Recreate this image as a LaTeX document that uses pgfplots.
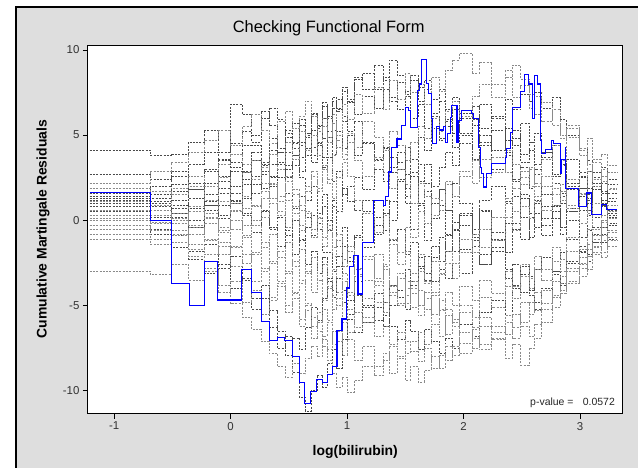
\documentclass[border=0pt]{standalone}
\usepackage{fontspec}
\setmainfont{Liberation Sans}
\usepackage{pgfplots}
\usepackage{pgfplotstable}
\pgfplotsset{compat=1.18}
\definecolor{simdark}{HTML}{4A4A4A}
\definecolor{simlight}{HTML}{8A8A8A}
\definecolor{outergray}{RGB}{222,222,222}

\pgfplotstableread[header=false]{
x   -1.21 -0.69 -0.51 -0.36 -0.23 -0.11 0.00 0.10 0.18 0.26 0.33 0.40 0.47 0.53 0.59 0.64 0.69 0.74 0.79 0.83 0.87 0.91 0.96 1.00 1.06 1.13 1.23 1.31 1.36 1.43 1.50 1.54 1.61 1.66 1.72 1.79 1.84 1.90 1.96 2.07 2.13 2.24 2.36 2.42 2.49 2.56 2.61 2.67 2.76 2.83 2.88 2.99 3.06 3.10 3.18 3.23 3.32
p1  4.1 3.8 3.9 4.6 5.3 4.0 6.8 6.2 5.0 6.4 5.6 4.2 3.0 3.8 2.5 1.2 2.0 0.4 1.5 -0.6 0.8 -1.5 -0.4 -2.2 -1.0 0.5 -0.8 1.2 0.0 2.4 1.0 -0.5 0.9 -1.2 0.3 1.8 0.6 2.2 1.0 -0.8 0.5 -1.6 -0.2 1.4 0.2 -1.0 0.4 -0.9 0.8 1.6 0.5 1.9 1.0 2.2 1.2 0.6 0.6
p2  1.9 1.7 1.5 2.0 1.2 2.5 1.0 2.8 3.5 2.2 3.9 3.0 4.6 3.6 5.2 4.1 5.0 3.8 5.5 4.6 6.2 5.0 6.8 5.9 7.4 6.3 7.8 6.5 8.2 7.1 8.6 7.5 8.0 6.8 8.4 7.6 8.8 9.4 9.8 8.6 9.3 8.0 8.8 7.2 7.9 6.6 7.3 5.8 6.5 5.0 5.6 4.2 4.8 3.6 3.9 3.2 3.2
p3  -0.5 -0.8 -1.6 -2.3 -3.1 -2.6 -4.0 -3.4 -5.2 -4.6 -6.3 -7.5 -6.8 -8.9 -10.4 -11.2 -10.0 -9.1 -9.8 -8.4 -7.6 -8.7 -7.0 -5.8 -6.6 -5.1 -4.3 -5.6 -3.8 -4.5 -2.9 -3.6 -2.2 -3.1 -1.5 -2.4 -0.9 -1.8 -0.3 -1.5 0.6 -0.7 1.0 -0.2 1.5 0.4 1.2 0.1 0.9 -0.4 0.5 1.4 0.6 1.8 0.9 0.3 0.3
p4  -3.0 -3.2 -2.6 -3.5 -2.8 -4.2 -3.6 -4.8 -4.1 -5.5 -4.7 -3.9 -5.0 -4.3 -5.8 -5.0 -6.2 -5.4 -6.8 -6.0 -7.3 -6.5 -7.9 -7.0 -8.2 -7.4 -8.6 -7.8 -9.0 -8.1 -9.4 -8.6 -9.5 -8.8 -8.0 -8.7 -7.4 -7.9 -6.6 -7.5 -6.2 -7.0 -5.6 -6.3 -4.8 -5.5 -4.2 -4.9 -3.6 -4.1 -2.8 -3.3 -2.1 -1.5 -1.9 -1.0 -1.0
p5  2.7 2.4 2.9 2.2 3.0 2.6 3.4 2.8 4.0 3.3 4.8 4.0 5.3 4.6 5.9 5.1 6.3 5.5 6.9 6.1 7.0 6.4 7.6 6.9 8.3 8.6 7.7 8.4 7.2 6.5 7.3 6.0 6.8 5.4 6.1 4.8 5.5 4.3 5.0 3.6 4.4 3.0 3.8 2.4 3.1 1.9 2.7 1.5 2.2 1.0 1.8 0.6 1.3 0.2 0.8 -0.3 -0.3
p6  0.0 0.3 -0.2 0.5 0.1 -0.4 0.6 -0.3 0.9 0.2 1.3 0.5 -0.4 0.8 -0.6 0.4 -1.0 0.1 -1.5 -0.5 -2.1 -1.2 -2.7 -1.8 -3.2 -2.3 -3.8 -2.9 -4.4 -3.4 -4.9 -4.0 -5.6 -4.6 -6.1 -5.2 -6.7 -5.8 -7.2 -6.4 -7.6 -6.9 -8.1 -7.3 -8.5 -7.5 -6.9 -6.0 -5.1 -4.3 -3.6 -2.8 -2.1 -1.6 -1.2 -0.7 -0.7
p7  1.4 1.1 1.7 1.3 2.2 1.6 2.9 2.1 3.5 2.7 4.1 3.4 4.9 4.2 5.6 4.9 6.2 5.4 6.7 6.0 7.2 6.5 7.8 7.1 8.4 7.7 9.1 8.2 9.4 8.5 7.6 8.2 7.0 7.7 6.3 7.0 5.8 6.5 5.1 5.9 4.6 5.3 4.0 4.8 3.4 4.1 3.0 3.7 2.6 3.3 2.2 2.8 1.9 2.5 1.6 2.1 2.1
p8  -0.8 -1.1 -0.6 -1.4 -2.0 -1.5 -2.7 -2.0 -3.6 -2.8 -4.5 -3.7 -5.4 -4.6 -6.2 -5.3 -6.9 -6.0 -5.2 -5.9 -4.4 -5.0 -3.6 -4.2 -2.8 -3.5 -2.0 -2.7 -1.1 -1.9 -0.4 -1.0 0.5 -0.2 1.3 0.6 2.1 1.4 2.9 2.2 3.6 2.8 4.1 3.3 2.5 3.1 2.0 2.6 1.5 2.1 0.9 1.5 0.4 1.0 -0.1 0.5 0.5
p9  1.0 0.8 1.2 0.7 1.5 0.9 2.0 1.3 2.6 1.9 3.3 2.5 4.0 3.2 4.6 3.8 5.3 4.5 6.0 5.2 6.6 7.1 6.1 5.2 5.8 4.5 3.6 4.2 2.8 3.4 1.9 2.6 1.0 1.7 0.1 0.9 -0.8 -0.1 -1.7 -1.0 -2.6 -1.8 -3.4 -2.6 -4.2 -3.3 -4.8 -4.0 -3.2 -3.8 -2.5 -1.9 -2.4 -1.3 -0.8 -1.1 -1.1
p10 -1.1 -1.4 -0.9 -1.7 -1.2 -2.0 -1.6 -2.5 -1.9 -3.0 -2.4 -3.6 -3.0 -4.2 -3.5 -4.9 -5.7 -6.5 -7.4 -8.2 -9.0 -9.8 -9.2 -10.1 -9.4 -8.6 -9.1 -8.2 -7.4 -8.0 -7.1 -7.7 -6.6 -7.3 -6.1 -6.8 -5.6 -6.2 -5.0 -5.7 -4.5 -5.1 -3.9 -4.6 -3.3 -4.0 -2.9 -3.5 -2.4 -3.0 -1.8 -2.5 -1.4 -2.0 -0.9 -1.5 -1.5
p11 0.5 0.2 0.7 0.0 0.9 0.3 1.1 0.4 -0.3 0.6 -0.5 0.2 -0.9 0.0 -1.2 -0.4 0.3 -0.5 0.8 0.0 1.2 0.5 1.9 1.1 2.5 1.8 3.0 2.3 3.7 3.0 4.3 3.6 4.9 4.1 5.4 4.7 5.9 5.1 6.3 5.6 6.8 6.0 7.1 6.5 7.4 7.0 7.5 6.6 7.2 5.9 5.0 4.2 3.5 2.8 3.1 2.4 2.4
p12 0.3 0.6 0.1 0.8 0.4 1.1 0.5 1.4 0.8 1.7 1.0 0.3 1.2 0.4 -0.3 0.5 -0.5 0.2 -1.0 -0.3 -1.6 -0.8 -2.3 -1.5 -2.9 -2.1 -3.4 -2.6 -3.9 -3.1 -4.4 -3.6 -5.0 -4.2 -5.5 -4.7 -5.2 -6.0 -5.4 -6.3 -5.7 -6.6 -6.0 -6.9 -6.2 -6.8 -6.1 -5.2 -4.4 -3.7 -3.0 -2.2 -1.7 -0.9 -0.4 0.1 0.1
p13 1.6 2.0 2.6 3.3 4.0 3.5 4.5 5.2 4.6 6.0 6.6 5.9 5.1 5.7 4.4 5.0 3.8 4.4 3.1 3.7 2.3 2.9 1.5 2.0 0.6 1.2 -0.3 0.4 -1.2 -0.5 -2.0 -1.3 -2.8 -2.1 -3.6 -2.9 -3.4 -2.5 -3.1 -1.9 -2.6 -1.2 -1.9 -0.5 -1.1 0.2 -0.4 0.8 0.1 1.4 0.7 1.9 1.2 2.4 1.7 1.1 1.1
p14 -0.3 -0.6 -1.3 -2.1 -3.0 -3.8 -4.9 -5.7 -6.4 -7.1 -7.8 -8.6 -9.2 -8.4 -9.0 -8.1 -7.4 -8.0 -7.0 -7.6 -6.5 -7.1 -6.0 -6.6 -5.4 -6.0 -4.8 -5.4 -4.2 -4.9 -3.6 -4.3 -3.0 -3.7 -2.4 -3.1 -1.8 -2.5 -1.1 -1.9 -0.5 -1.2 0.2 -0.6 0.8 0.1 1.4 0.6 1.9 1.2 2.4 1.6 2.9 2.0 2.6 1.9 1.9
p15 1.2 1.5 0.9 1.8 1.1 2.3 1.6 2.9 2.1 3.4 2.6 4.0 3.2 4.5 3.7 5.1 4.3 5.6 4.8 6.1 5.3 6.6 5.8 7.0 6.2 7.3 6.6 7.7 7.0 8.1 7.4 8.5 7.8 8.2 7.1 7.7 6.5 7.2 6.0 6.7 5.4 6.1 4.7 5.3 3.9 4.6 3.3 4.0 2.7 3.3 2.0 2.6 1.5 2.0 1.0 1.6 1.6
p16 -0.5 -0.2 -0.8 -0.4 -1.1 -0.7 -1.5 -0.9 -2.0 -1.3 -2.5 -1.8 -3.1 -2.4 -3.7 -3.0 -4.2 -3.5 -4.7 -4.0 -5.2 -4.6 -5.8 -5.2 -6.3 -5.7 -6.8 -6.2 -7.3 -6.6 -7.8 -7.1 -8.3 -7.5 -8.7 -7.9 -8.2 -7.4 -7.8 -6.9 -7.3 -6.2 -6.7 -5.5 -6.0 -4.8 -5.3 -4.1 -4.5 -3.3 -3.7 -2.6 -2.9 -1.9 -2.2 -1.2 -1.2
p17 0.8 1.0 0.4 1.3 0.6 1.9 1.2 2.4 1.6 2.9 2.0 3.3 2.5 3.8 2.9 4.2 3.4 4.6 3.7 4.9 3.9 5.2 4.2 5.0 3.8 4.6 3.5 4.3 3.1 4.0 2.7 3.6 2.3 3.3 2.0 3.1 4.0 3.2 4.5 3.6 5.0 4.1 5.4 4.4 5.7 4.6 5.1 4.0 4.4 3.2 3.6 2.5 2.9 1.8 2.2 1.3 1.3
p18 0.1 -0.1 0.4 -0.3 0.2 -0.6 0.0 -1.0 -0.3 -1.6 -0.8 -2.2 -1.3 -2.7 -1.7 -3.1 -2.2 -3.5 -2.6 -3.9 -2.9 -4.2 -3.1 -4.4 -3.3 -4.6 -3.6 -4.8 -3.8 -5.0 -4.0 -5.1 -4.1 -5.2 -4.2 -5.3 -4.2 -5.0 -3.9 -4.7 -3.5 -4.3 -3.0 -3.9 -2.6 -3.4 -2.1 -2.9 -1.6 -2.3 -1.0 -1.7 -0.5 -1.1 0.0 -0.6 -0.6
p19 1.3 1.3 2.1 1.8 2.9 3.6 3.1 4.4 4.4 3.2 2.5 2.5 1.6 0.7 1.4 0.2 -0.9 -0.2 -1.9 -1.9 -3.0 -2.1 -4.1 -4.7 -3.6 -5.0 -5.9 -4.8 -6.2 -7.0 -5.9 -6.5 -7.6 -6.4 -7.1 -7.8 -6.9 -7.5 -6.1 -6.8 -5.4 -4.7 -5.6 -4.0 -3.2 -4.1 -2.9 -2.2 -3.0 -1.9 -1.1 -1.8 -0.6 -1.3 -0.4 0.4 0.4
p20 0.6 0.9 1.9 2.6 2.0 3.3 3.9 3.3 2.4 3.1 2.2 1.4 2.3 1.5 0.6 1.7 2.6 1.9 3.2 2.4 3.8 4.7 3.9 5.1 4.3 5.8 4.9 4.1 5.2 4.4 3.5 4.6 5.5 4.8 6.0 5.2 6.4 7.0 6.1 7.3 8.0 7.2 8.4 9.1 8.3 7.4 6.2 6.9 5.6 4.8 5.4 4.1 3.3 2.4 3.0 1.8 1.8
p21 -0.3 0.0 -0.9 -1.8 -1.4 -2.8 -2.1 -3.5 -4.6 -3.8 -5.3 -6.5 -7.9 -6.9 -7.6 -6.3 -5.1 -5.9 -4.6 -3.4 -4.1 -2.7 -1.5 -2.4 -0.9 -1.6 0.2 -0.6 1.1 2.3 1.4 2.8 3.3 2.2 1.0 1.8 0.6 -0.5 0.3 -1.2 -2.0 -1.1 -2.9 -3.8 -2.7 -4.4 -5.2 -4.1 -3.0 -3.7 -2.4 -1.5 -2.0 -0.8 -1.3 -0.2 -0.2
p22 1.1 0.6 0.0 -0.8 -0.2 -1.3 -0.5 0.7 0.0 1.3 2.1 1.1 2.6 1.8 0.9 2.0 2.9 1.7 3.0 2.2 1.3 2.5 3.4 2.6 1.2 0.4 -0.7 0.3 -1.4 -2.6 -1.8 -3.1 -2.0 -3.6 -4.4 -3.2 -2.5 -3.4 -1.9 -0.8 -1.6 0.2 1.3 0.5 2.1 3.0 2.2 3.6 4.4 3.5 4.9 3.8 2.9 3.4 2.3 2.8 2.8
p23 0.0 -0.5 0.2 -0.4 0.9 0.1 1.0 0.3 -0.7 0.5 -0.4 -1.5 -0.6 -2.0 -1.1 -2.6 -1.8 -3.1 -2.2 -3.6 -4.5 -3.4 -4.8 -5.5 -4.4 -6.0 -5.1 -6.2 -5.0 -4.1 -5.2 -3.8 -2.7 -3.5 -2.2 -1.0 -1.8 -0.6 0.4 -0.5 1.2 2.0 1.1 2.3 1.3 0.2 1.0 -0.3 0.5 -0.8 0.0 -1.0 0.3 -0.4 0.9 0.2 0.2
p24 2.2 2.9 3.4 4.0 4.7 5.3 4.4 5.5 6.2 5.3 4.5 5.8 6.4 5.4 6.1 7.0 6.1 5.2 6.0 4.9 5.7 4.3 3.6 4.6 3.5 2.6 3.7 2.8 1.9 3.0 2.1 1.0 2.2 1.4 0.3 1.2 2.3 1.4 2.6 3.5 2.5 3.7 2.8 1.9 2.9 2.0 1.1 2.0 0.9 1.7 0.7 -0.2 0.6 -0.5 0.3 0.9 0.9
}\raw
\pgfplotstabletranspose[colnames from=0]\sims{\raw}

\begin{document}
\begin{tikzpicture}
\fill[white] (0bp,0bp) rectangle (639bp,468bp);
\fill[outergray] (16bp,0bp) rectangle (639bp,461bp);
\draw[draw=black, line width=1.3bp] (16bp,0bp) -- (16bp,461bp) -- (639bp,461bp);
\node[font=\fontsize{16.5}{18}\selectfont] at (329bp,440bp) {Checking Functional Form};
\begin{axis}[
  at={(88bp,54bp)}, anchor=south west,
  scale only axis, width=535.3bp, height=369bp,
  xmin=-1.225, xmax=3.365, ymin=-11.35, ymax=10.29,
  xtick={-1,0,1,2,3}, ytick={-10,-5,0,5,10},
  tick align=outside, tick pos=left, major tick length=5bp,
  every tick/.style={black, line width=0.6bp},
  axis line style={line width=0.9bp},
  axis background/.style={fill=white},
  /pgf/number format/assume math mode=true,
  ticklabel style={font=\fontsize{11.5}{13}\selectfont, text=black!80},
  xlabel={log(bilirubin)}, ylabel={Cumulative Martingale Residuals},
  label style={font=\bfseries\fontsize{14}{16}\selectfont},
  xlabel style={at={(rel axis cs:0.5,0)}, anchor=center, yshift=-38bp},
  ylabel style={at={(rel axis cs:0,0.5)}, anchor=center, yshift=45bp},
  sim/.style={const plot, no marks, line width=0.5bp, dash pattern=on 2bp off 1.3bp},
]
\pgfplotsinvokeforeach{1,3,5,7,9,11,13,15,17,19,21,23}{
  \addplot[sim, draw=simdark] table[x=x, y=p#1] {\sims};
}
\pgfplotsinvokeforeach{2,4,6,8,10,12,14,16,18,20,22,24}{
  \addplot[sim, draw=simlight] table[x=x, y=p#1] {\sims};
}
\addplot[const plot, no marks, blue, line width=1.1bp] coordinates {
(-1.206,1.62) (-0.689,-0.04) (-0.509,-3.70) (-0.355,-5.03) (-0.226,-2.40) (-0.109,-4.68) (0.097,-2.87) (0.177,-4.25) (0.262,-5.95) (0.334,-7.06) (0.399,-6.88) (0.465,-7.06) (0.528,-7.99) (0.591,-9.55) (0.637,-10.76) (0.686,-10.08) (0.737,-9.36) (0.785,-9.55) (0.828,-9.06) (0.871,-8.61) (0.913,-6.45) (0.956,-5.80) (0.991,-3.98) (1.022,-2.73) (1.057,-2.05) (1.093,-4.33) (1.128,-1.29) (1.228,1.17) (1.314,0.88) (1.328,1.40) (1.356,2.83) (1.380,4.29) (1.428,4.77) (1.470,5.56) (1.500,6.63) (1.528,6.43) (1.542,5.46) (1.605,7.64) (1.622,8.0) (1.642,9.45) (1.678,8.03) (1.699,7.45) (1.722,5.95) (1.734,4.50) (1.770,5.50) (1.791,5.30) (1.828,5.50) (1.842,4.58) (1.865,5.07) (1.885,6.04) (1.899,6.73) (1.943,4.58) (1.956,5.85) (1.979,6.43) (2.070,6.24) (2.085,5.95) (2.128,4.29) (2.142,3.12) (2.156,2.73) (2.171,1.95) (2.194,2.73) (2.242,3.31) (2.362,3.70) (2.370,4.20) (2.399,5.13) (2.419,6.60) (2.485,7.56) (2.522,8.58) (2.556,8.0) (2.593,5.95) (2.608,8.48) (2.636,8.0) (2.656,4.68) (2.665,3.90) (2.699,4.13) (2.756,4.68) (2.770,4.52) (2.828,2.73) (2.842,3.55) (2.871,4.29) (2.876,1.85) (2.985,0.78) (3.056,1.60) (3.099,0.35) (3.184,0.92) (3.227,0.62) (3.319,0.62)
};
\node[anchor=east, font=\fontsize{10.5}{12}\selectfont, text=black!85] at (rel axis cs:0.992,0.03) {p-value =\hspace{0.9em}0.0572};
\end{axis}
\end{tikzpicture}
\end{document}
